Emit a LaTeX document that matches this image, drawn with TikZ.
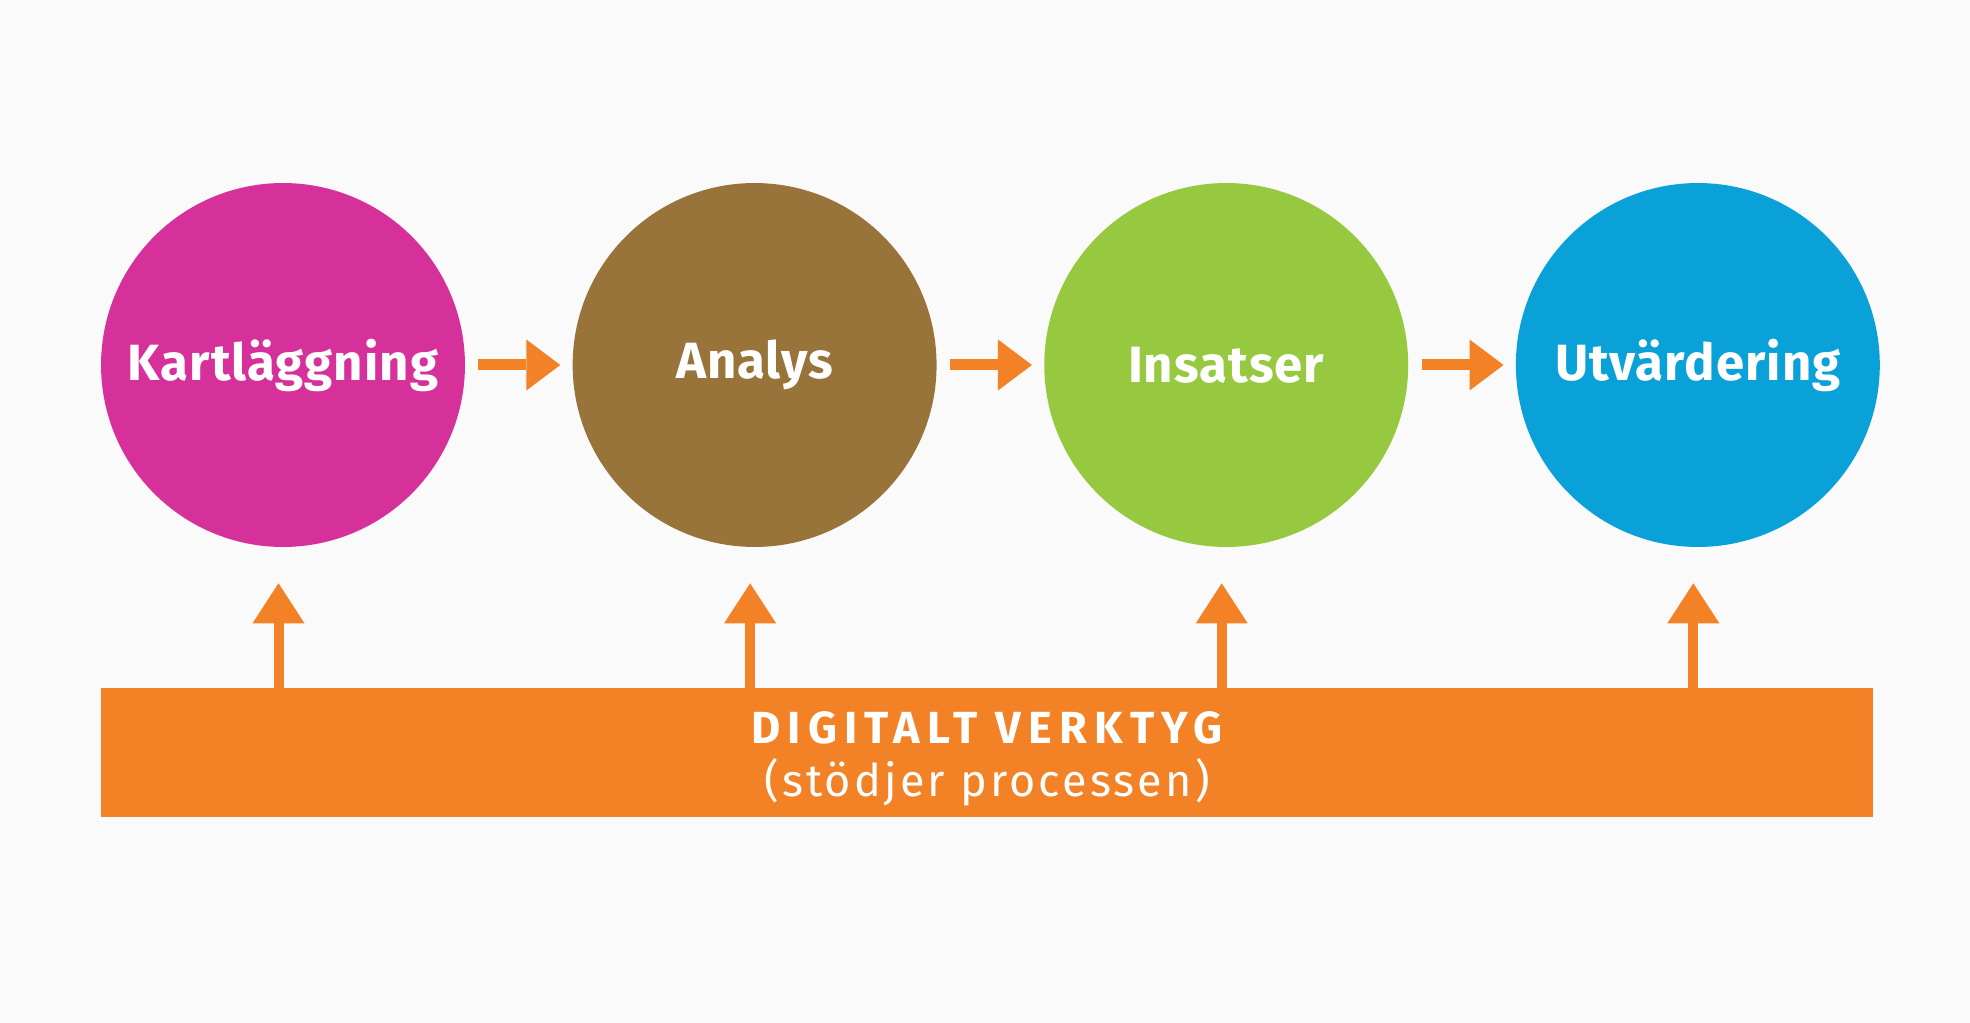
\documentclass[tikz,border=0pt]{standalone}
\usepackage{fontspec}
\setmainfont{Fira Sans}
\usepackage{tikz}
\usepackage{xcolor}
\usetikzlibrary{shapes.geometric, arrows.meta, positioning, calc}

\definecolor{bgwhite}{RGB}{250,250,250}
\definecolor{kartpink}{RGB}{214,48,154}
\definecolor{analysbrown}{RGB}{152,115,58}
\definecolor{insatsgreen}{RGB}{151,201,64}
\definecolor{utvblue}{RGB}{10,160,216}
\definecolor{toolorange}{RGB}{243,130,38}

\begin{document}
\begin{tikzpicture}[x=0.02cm, y=-0.02cm,
  phase/.style={circle, minimum size=7.28cm, inner sep=0pt, text=white,
    font=\fontsize{29}{32}\selectfont\bfseries\addfontfeature{LetterSpace=2}},
  flow/.style={draw=toolorange, line width=0.22cm,
    -{Triangle[length=0.68cm, width=1.02cm, line width=0pt, fill=toolorange]},
    shorten <=0.26cm, shorten >=0.24cm},
  support/.style={draw=toolorange, line width=0.2cm,
    -{Triangle[length=0.8cm, width=1.04cm, line width=0pt, fill=toolorange]},
    shorten >=0.72cm},
  toolbar/.style={rectangle, fill=toolorange, text=white, align=center,
    minimum width=35.44cm, minimum height=2.58cm, inner sep=0pt,
    font=\fontsize{25.6}{30}\selectfont}]
\useasboundingbox[fill=bgwhite] (0,0) rectangle (1970,1023);

% process steps
\node[phase, fill=kartpink] (kart) at (283,365) {Kartläggning};
\node[phase, fill=analysbrown, right=2.14cm of kart] (analys) {Analys};
\node[phase, fill=insatsgreen, right=2.14cm of analys] (insats) {Insatser};
\node[phase, fill=utvblue, right=2.14cm of insats] (utv) {Utvärdering};

\draw[flow] (kart) -- (analys);
\draw[flow] (analys) -- (insats);
\draw[flow] (insats) -- (utv);

% digital tool below
\node[toolbar] (tool) at (987,752.5)
    {\rule{0pt}{25pt}{\bfseries\addfontfeature{LetterSpace=16}DIGITALT VERKTYG}\\
     {\addfontfeature{LetterSpace=7}(stödjer processen)}};

\foreach \n in {kart, analys, insats, utv} {
    \draw[support] ([xshift=-0.09cm]tool.north -| \n.south) -- ([xshift=-0.09cm]\n.south);
}
\end{tikzpicture}
\end{document}
